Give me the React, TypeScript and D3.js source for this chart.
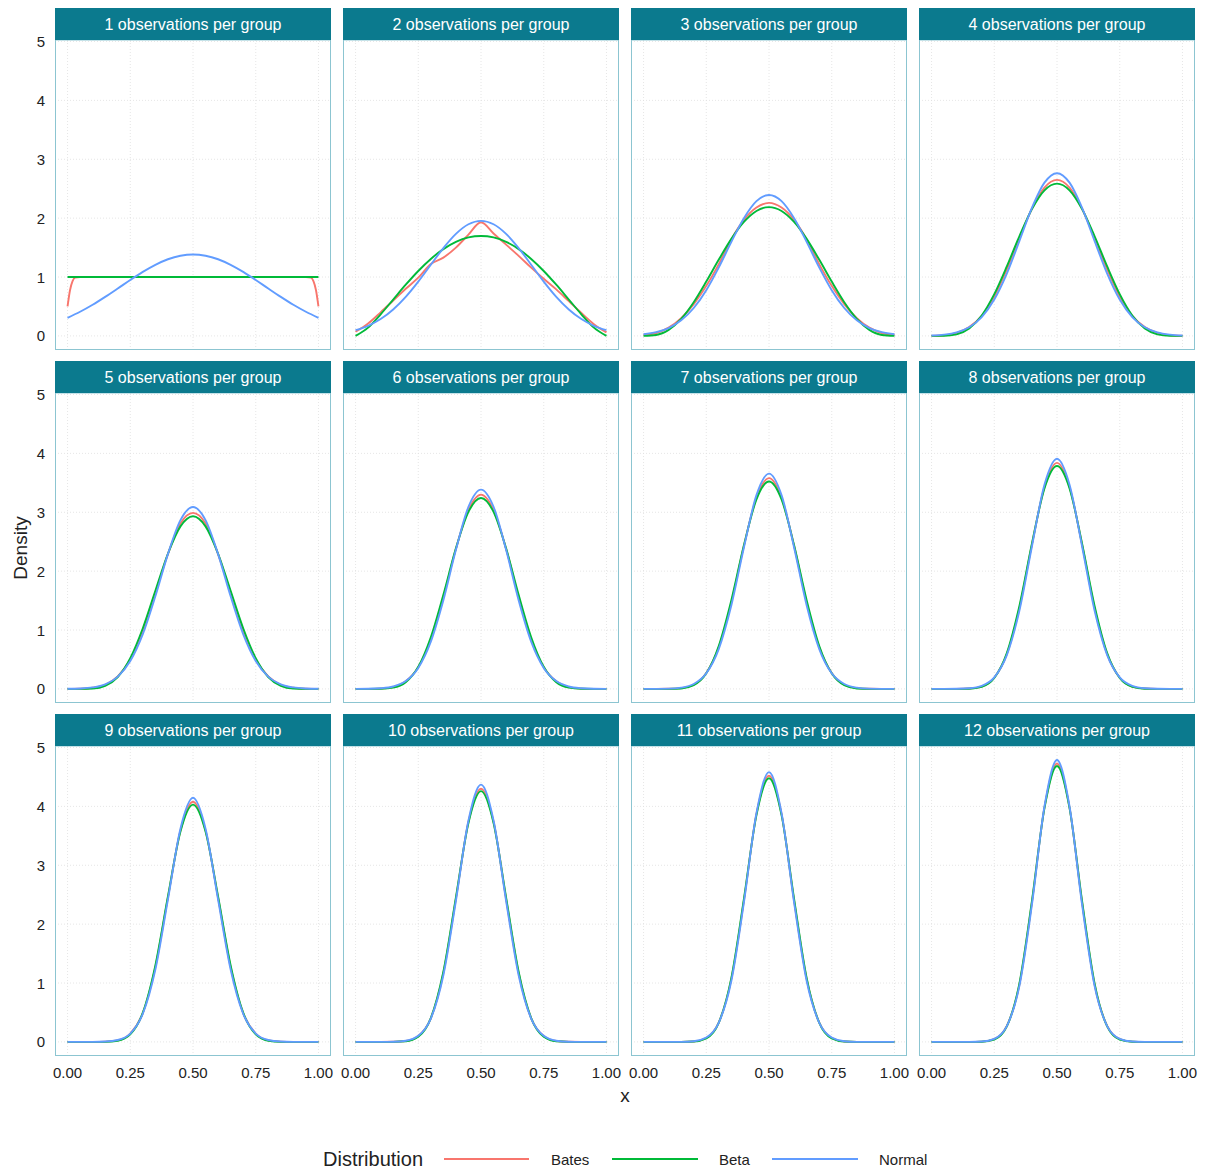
import * as d3 from 'd3';

const panelLabels = [
  '1 observations per group',
  '2 observations per group',
  '3 observations per group',
  '4 observations per group',
  '5 observations per group',
  '6 observations per group',
  '7 observations per group',
  '8 observations per group',
  '9 observations per group',
  '10 observations per group',
  '11 observations per group',
  '12 observations per group',
];

const distributions = ['Bates', 'Beta', 'Normal'];
const colors = ['#F8766D', '#00BA38', '#619CFF'];

const yTicks = [0, 1, 2, 3, 4, 5];
const xTicks = [0, 0.25, 0.5, 0.75, 1];
const xTickLabels = ['0.00', '0.25', '0.50', '0.75', '1.00'];

const xGrid = [
  0, 0.05, 0.1, 0.15, 0.2, 0.25, 0.3, 0.35, 0.4, 0.45, 0.5, 0.55, 0.6, 0.65, 0.7, 0.75, 0.8, 0.85, 0.9,
  0.95, 1,
];
// the 1-observation Bates curve drops off fast at the edges
const batesX1 = [0, 0.01, 0.02, 0.03, 0.05, 0.1, 0.5, 0.9, 0.95, 0.97, 0.98, 0.99, 1];

const batesDensity = [
  [0.5, 0.78, 0.93, 0.99, 1, 1, 1, 1, 1, 0.99, 0.93, 0.78, 0.5],
  [0.07, 0.21, 0.4, 0.6, 0.8, 0.99, 1.22, 1.33, 1.5, 1.72, 1.93, 1.74, 1.55, 1.36, 1.16, 0.97, 0.79, 0.59, 0.39, 0.2, 0.06],
  [0.02, 0.05, 0.14, 0.3, 0.54, 0.85, 1.22, 1.64, 1.97, 2.18, 2.26, 2.18, 1.97, 1.64, 1.22, 0.85, 0.54, 0.3, 0.14, 0.05, 0.02],
  [0, 0.01, 0.05, 0.15, 0.34, 0.67, 1.13, 1.66, 2.16, 2.52, 2.65, 2.52, 2.16, 1.66, 1.13, 0.67, 0.34, 0.15, 0.05, 0.01, 0],
  [0, 0.003, 0.02, 0.07, 0.21, 0.5, 0.98, 1.63, 2.29, 2.81, 2.99, 2.81, 2.29, 1.63, 0.98, 0.5, 0.21, 0.07, 0.02, 0.003, 0],
  [0, 0, 0.005, 0.03, 0.13, 0.37, 0.84, 1.56, 2.38, 3.04, 3.3, 3.04, 2.38, 1.56, 0.84, 0.37, 0.13, 0.03, 0.005, 0, 0],
  [0, 0, 0.002, 0.014, 0.07, 0.27, 0.71, 1.47, 2.43, 3.25, 3.58, 3.25, 2.43, 1.47, 0.71, 0.27, 0.07, 0.014, 0.002, 0, 0],
  [0, 0, 0, 0.006, 0.04, 0.19, 0.59, 1.37, 2.45, 3.43, 3.84, 3.43, 2.45, 1.37, 0.59, 0.19, 0.04, 0.006, 0, 0, 0],
  [0, 0, 0, 0.004, 0.025, 0.14, 0.49, 1.27, 2.45, 3.59, 4.08, 3.59, 2.45, 1.27, 0.49, 0.14, 0.025, 0.004, 0, 0, 0],
  [0, 0, 0, 0.002, 0.015, 0.1, 0.4, 1.17, 2.43, 3.74, 4.3, 3.74, 2.43, 1.17, 0.4, 0.1, 0.015, 0.002, 0, 0, 0],
  [0, 0, 0, 0.001, 0.008, 0.067, 0.33, 1.07, 2.4, 3.87, 4.52, 3.87, 2.4, 1.07, 0.33, 0.067, 0.008, 0.001, 0, 0, 0],
  [0, 0, 0, 0, 0.004, 0.046, 0.27, 0.97, 2.37, 3.98, 4.73, 3.98, 2.37, 0.97, 0.27, 0.046, 0.004, 0, 0, 0, 0],
];

const betaDensity = [
  [1, 1, 1, 1, 1, 1, 1, 1, 1, 1, 1, 1, 1, 1, 1, 1, 1, 1, 1, 1, 1],
  [0, 0.141, 0.367, 0.618, 0.869, 1.103, 1.307, 1.474, 1.597, 1.673, 1.698, 1.673, 1.597, 1.474, 1.307, 1.103, 0.869, 0.618, 0.367, 0.141, 0],
  [0, 0.015, 0.102, 0.29, 0.573, 0.923, 1.297, 1.648, 1.935, 2.122, 2.188, 2.122, 1.935, 1.648, 1.297, 0.923, 0.573, 0.29, 0.102, 0.015, 0],
  [0, 0.001, 0.026, 0.125, 0.347, 0.709, 1.18, 1.692, 2.153, 2.473, 2.587, 2.473, 2.153, 1.692, 1.18, 0.709, 0.347, 0.125, 0.026, 0.001, 0],
  [0, 0, 0.006, 0.052, 0.202, 0.522, 1.03, 1.666, 2.296, 2.761, 2.933, 2.761, 2.296, 1.666, 1.03, 0.522, 0.202, 0.052, 0.006, 0, 0],
  [0, 0, 0.002, 0.021, 0.114, 0.375, 0.877, 1.598, 2.387, 3.007, 3.242, 3.007, 2.387, 1.598, 0.877, 0.375, 0.114, 0.021, 0.002, 0, 0],
  [0, 0, 0, 0.008, 0.063, 0.265, 0.734, 1.508, 2.44, 3.219, 3.524, 3.219, 2.44, 1.508, 0.734, 0.265, 0.063, 0.008, 0, 0, 0],
  [0, 0, 0, 0.003, 0.035, 0.185, 0.607, 1.406, 2.466, 3.406, 3.785, 3.406, 2.466, 1.406, 0.607, 0.185, 0.035, 0.003, 0, 0, 0],
  [0, 0, 0, 0.001, 0.019, 0.128, 0.497, 1.3, 2.469, 3.572, 4.03, 3.572, 2.469, 1.3, 0.497, 0.128, 0.019, 0.001, 0, 0, 0],
  [0, 0, 0, 0.001, 0.01, 0.088, 0.405, 1.192, 2.455, 3.719, 4.26, 3.719, 2.455, 1.192, 0.405, 0.088, 0.01, 0.001, 0, 0, 0],
  [0, 0, 0, 0, 0.006, 0.06, 0.328, 1.088, 2.428, 3.852, 4.478, 3.852, 2.428, 1.088, 0.328, 0.06, 0.006, 0, 0, 0, 0],
  [0, 0, 0, 0, 0.003, 0.041, 0.264, 0.989, 2.39, 3.971, 4.687, 3.971, 2.39, 0.989, 0.264, 0.041, 0.003, 0, 0, 0, 0],
];

const normalDensity = [
  [0.308, 0.41, 0.529, 0.663, 0.805, 0.95, 1.087, 1.207, 1.302, 1.361, 1.382, 1.361, 1.302, 1.207, 1.087, 0.95, 0.805, 0.663, 0.529, 0.41, 0.308],
  [0.097, 0.172, 0.286, 0.449, 0.664, 0.923, 1.209, 1.492, 1.733, 1.896, 1.954, 1.896, 1.733, 1.492, 1.209, 0.923, 0.664, 0.449, 0.286, 0.172, 0.097],
  [0.027, 0.063, 0.134, 0.264, 0.474, 0.777, 1.165, 1.597, 2.0, 2.289, 2.394, 2.289, 2.0, 1.597, 1.165, 0.777, 0.474, 0.264, 0.134, 0.063, 0.027],
  [0.007, 0.021, 0.059, 0.146, 0.319, 0.617, 1.058, 1.611, 2.174, 2.603, 2.764, 2.603, 2.174, 1.611, 1.058, 0.617, 0.319, 0.146, 0.059, 0.021, 0.007],
  [0.002, 0.007, 0.025, 0.078, 0.208, 0.474, 0.931, 1.573, 2.289, 2.867, 3.09, 2.867, 2.289, 1.573, 0.931, 0.474, 0.208, 0.078, 0.025, 0.007, 0.002],
  [0, 0.002, 0.011, 0.041, 0.133, 0.357, 0.802, 1.506, 2.362, 3.094, 3.385, 3.094, 2.362, 1.506, 0.802, 0.357, 0.133, 0.041, 0.011, 0.002, 0],
  [0, 0.001, 0.004, 0.021, 0.083, 0.265, 0.681, 1.421, 2.402, 3.291, 3.656, 3.291, 2.402, 1.421, 0.681, 0.265, 0.083, 0.021, 0.004, 0.001, 0],
  [0, 0, 0.002, 0.011, 0.052, 0.195, 0.573, 1.327, 2.419, 3.467, 3.909, 3.467, 2.419, 1.327, 0.573, 0.195, 0.052, 0.011, 0.002, 0, 0],
  [0, 0, 0.001, 0.006, 0.032, 0.142, 0.478, 1.23, 2.416, 3.622, 4.146, 3.622, 2.416, 1.23, 0.478, 0.142, 0.032, 0.006, 0.001, 0, 0],
  [0, 0, 0, 0.003, 0.02, 0.103, 0.396, 1.133, 2.398, 3.761, 4.37, 3.761, 2.398, 1.133, 0.396, 0.103, 0.02, 0.003, 0, 0, 0],
  [0, 0, 0, 0.001, 0.012, 0.074, 0.327, 1.038, 2.369, 3.886, 4.583, 3.886, 2.369, 1.038, 0.327, 0.074, 0.012, 0.001, 0, 0, 0],
  [0, 0, 0, 0.001, 0.007, 0.053, 0.269, 0.947, 2.33, 3.999, 4.787, 3.999, 2.33, 0.947, 0.269, 0.053, 0.007, 0.001, 0, 0, 0],
];

const W = 1209;
const H = 1169;
const FONT = '"Liberation Sans", Arial, sans-serif';

// facet layout
const colLeft = [55, 343, 631, 919];
const rowTop = [8, 361, 714];
const panelW = 276;
const stripH = 32;
const panelH = 310;

const STRIP = '#0b7a8e';
const BORDER = '#8cc5d1';
const GRID = '#e0e0e0';

function Panel({ idx }: { idx: number }) {
  const col = idx % 4;
  const row = Math.floor(idx / 4);
  const left = colLeft[col];
  const top = rowTop[row] + stripH;
  const bottom = top + panelH;

  const x = d3.scaleLinear().domain([-0.05, 1.05]).range([left, left + panelW]);
  const y = d3.scaleLinear().domain([-0.2394, 5.026]).range([bottom, top]);

  const series = [batesDensity[idx], betaDensity[idx], normalDensity[idx]];

  return (
    <g>
      {/* grid */}
      {xTicks.map((t) => (
        <line key={'gx' + t} x1={x(t)} x2={x(t)} y1={top} y2={bottom} stroke={GRID} strokeWidth={0.8} strokeDasharray="1 2" />
      ))}
      {yTicks.map((t) => (
        <line key={'gy' + t} x1={left} x2={left + panelW} y1={y(t)} y2={y(t)} stroke={GRID} strokeWidth={0.8} strokeDasharray="1 2" />
      ))}

      {/* curves */}
      {series.map((vals, si) => {
        const xs = si === 0 && idx === 0 ? batesX1 : xGrid;
        const line = d3
          .line<number>()
          .x((_d, i) => x(xs[i]))
          .y((d) => y(d))
          .curve(d3.curveMonotoneX);
        return (
          <path key={distributions[si]} d={line(vals) ?? ''} fill="none" stroke={colors[si]} strokeWidth={1.9} />
        );
      })}

      {/* border */}
      <rect x={left + 0.5} y={top} width={panelW - 1} height={panelH - 0.5} fill="none" stroke={BORDER} strokeWidth={1} />

      {/* strip */}
      <rect x={left} y={rowTop[row]} width={panelW} height={stripH} fill={STRIP} />
      <text
        x={left + panelW / 2}
        y={rowTop[row] + stripH / 2}
        textAnchor="middle"
        dominantBaseline="central"
        fill="#ffffff"
        fontSize={16}
        fontFamily={FONT}
      >
        {panelLabels[idx]}
      </text>

      {/* y axis labels on first column */}
      {col === 0 &&
        yTicks.map((t) => (
          <text key={'yl' + t} x={45} y={y(t)} textAnchor="end" dominantBaseline="central" fontSize={15} fill="#222" fontFamily={FONT}>
            {t}
          </text>
        ))}

      {/* x axis labels on bottom row */}
      {row === 2 &&
        xTicks.map((t, i) => (
          <text key={'xl' + t} x={x(t)} y={bottom + 16} textAnchor="middle" dominantBaseline="central" fontSize={15} fill="#222" fontFamily={FONT}>
            {xTickLabels[i]}
          </text>
        ))}
    </g>
  );
}

function Legend() {
  const cy = 1159;
  const keys = [
    { x1: 444, x2: 529, tx: 551 },
    { x1: 612, x2: 698, tx: 719 },
    { x1: 772, x2: 858, tx: 879 },
  ];
  return (
    <g fontFamily={FONT}>
      <text x={323} y={cy} dominantBaseline="central" fontSize={20} fill="#222">
        Distribution
      </text>
      {distributions.map((dname, i) => (
        <g key={dname}>
          <line x1={keys[i].x1} x2={keys[i].x2} y1={cy} y2={cy} stroke={colors[i]} strokeWidth={1.9} />
          <text x={keys[i].tx} y={cy} dominantBaseline="central" fontSize={15} fill="#222">
            {dname}
          </text>
        </g>
      ))}
    </g>
  );
}

export default function App() {
  return (
    <svg
      width={W}
      height={H}
      viewBox={`0 0 ${W} ${H}`}
      style={{ position: 'absolute', left: 0, top: 0, background: '#ffffff' }}
    >
      <rect x={0} y={0} width={W} height={H} fill="#ffffff" />
      {panelLabels.map((_l, i) => (
        <Panel key={i} idx={i} />
      ))}
      <text x={625} y={1095} textAnchor="middle" dominantBaseline="central" fontSize={19} fill="#222" fontFamily={FONT}>
        x
      </text>
      <text
        transform="translate(20,548) rotate(-90)"
        textAnchor="middle"
        dominantBaseline="central"
        fontSize={19}
        fill="#222"
        fontFamily={FONT}
      >
        Density
      </text>
      <Legend />
    </svg>
  );
}
